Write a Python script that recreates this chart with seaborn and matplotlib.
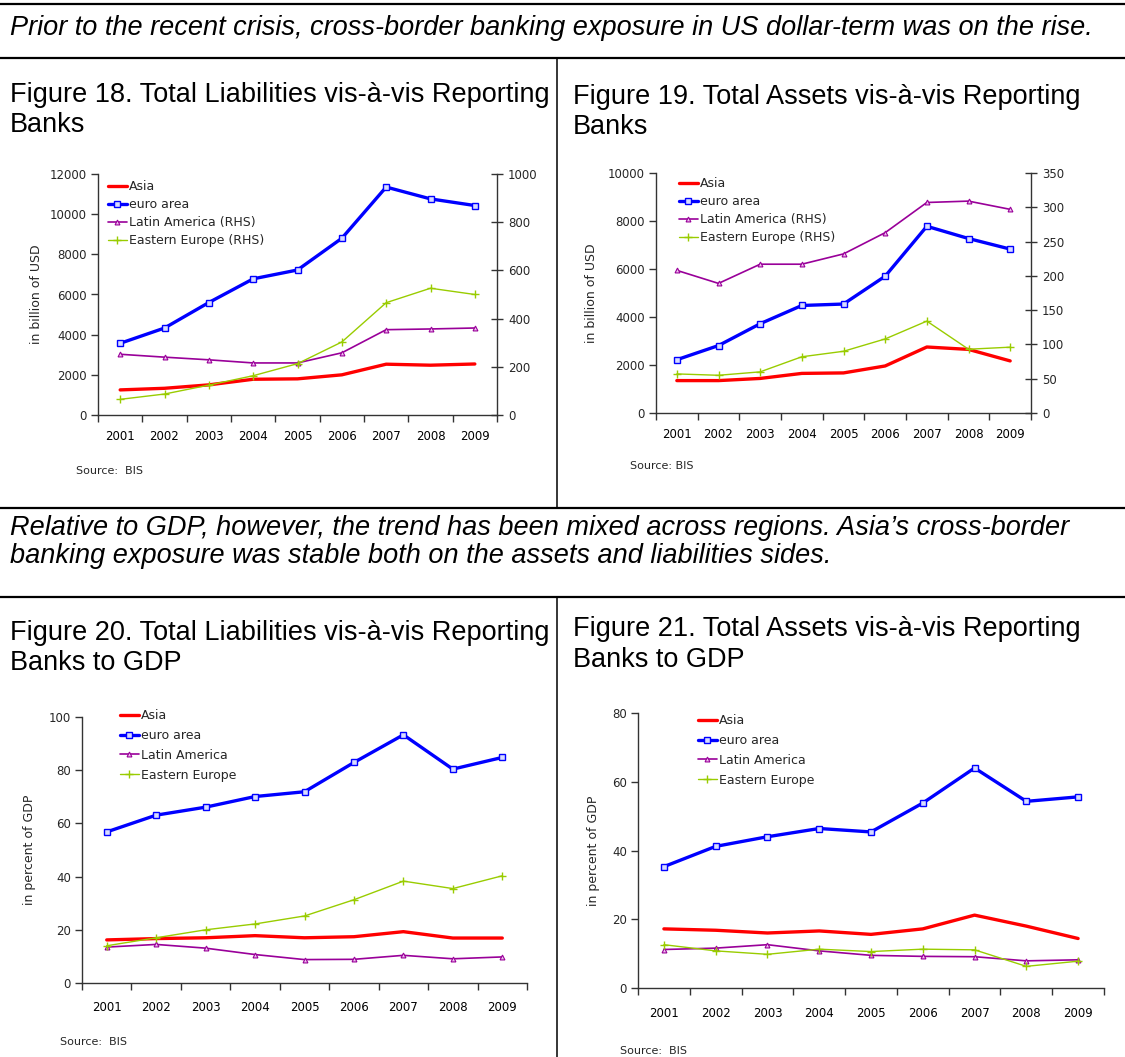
import numpy as np
import matplotlib
matplotlib.use("Agg")
import matplotlib.pyplot as plt
import seaborn as sns
from matplotlib.lines import Line2D

# ---------------- data ----------------
years = ["2001", "2002", "2003", "2004", "2005", "2006", "2007", "2008", "2009"]

# Figure 18: total liabilities (billion USD); Latin America / Eastern Europe on RHS
f18_asia = [1250, 1330, 1500, 1780, 1800, 2000, 2530, 2480, 2540]
f18_euro = [3570, 4330, 5600, 6780, 7220, 8800, 11350, 10760, 10430]
f18_latam = [252, 240, 229, 216, 216, 258, 354, 357, 361]
f18_eeurope = [65, 87, 124, 163, 213, 303, 466, 526, 500]

# Figure 19: total assets (billion USD); Latin America / Eastern Europe on RHS
f19_asia = [1350, 1350, 1440, 1650, 1670, 1960, 2750, 2650, 2170]
f19_euro = [2220, 2810, 3720, 4480, 4540, 5700, 7780, 7270, 6830]
f19_latam = [208, 189, 217, 217, 232, 263, 307, 309, 297]
f19_eeurope = [57, 55, 60, 82, 90, 108, 134, 93, 96]

# Figure 20: liabilities in percent of GDP
f20_asia = [16.2, 16.7, 17.0, 17.8, 17.0, 17.4, 19.3, 16.9, 16.9]
f20_euro = [56.8, 63.1, 66.1, 70.1, 71.9, 82.9, 93.3, 80.4, 84.8]
f20_latam = [13.5, 14.5, 13.1, 10.7, 8.8, 8.9, 10.4, 9.1, 9.8]
f20_eeurope = [14.0, 17.0, 20.0, 22.2, 25.2, 31.3, 38.3, 35.5, 40.3]

# Figure 21: assets in percent of GDP
f21_asia = [17.2, 16.8, 16.0, 16.6, 15.6, 17.2, 21.2, 18.0, 14.4]
f21_euro = [35.3, 41.2, 44.0, 46.4, 45.4, 53.8, 64.0, 54.3, 55.6]
f21_latam = [11.2, 11.6, 12.6, 10.8, 9.5, 9.2, 9.1, 7.9, 8.2]
f21_eeurope = [12.6, 10.8, 9.8, 11.3, 10.6, 11.3, 11.1, 6.3, 7.8]

# ---------------- style ----------------
sns.set_style("white")
plt.rcParams["font.family"] = ["DejaVu Sans"]

W, H = 1125, 1057
fig = plt.figure(figsize=(W / 100, H / 100), dpi=100)
AXC = "#333333"
TXT_FONT = ["Liberation Sans", "DejaVu Sans"]

STY = {
    "asia": dict(color="#FF0000", linewidth=2.4),
    "euro": dict(color="#0000FF", linewidth=2.4, marker="s", markersize=4,
                 markerfacecolor="#D8DCFF", markeredgecolor="#0000FF", markeredgewidth=1.0),
    "latam": dict(color="#990099", linewidth=1.2, marker="^", markersize=3.5,
                  markerfacecolor="#F0C0F0", markeredgecolor="#990099", markeredgewidth=0.8),
    "eeur": dict(color="#99CC00", linewidth=1.0, marker="+", markersize=5.5,
                 markerfacecolor="#99CC00", markeredgecolor="#99CC00", markeredgewidth=1.0),
}

pos = np.arange(len(years))


def fx(x):
    return x / W


def fy(y):
    return 1 - y / H


def rect(l, t, r, b):
    return [l / W, 1 - b / H, (r - l) / W, (b - t) / H]


def draw(ax, vals, key, label):
    sns.lineplot(x=pos, y=vals, ax=ax, legend=False, label=label, **STY[key])


def style_axes(ax, ylim, yticks, xpad):
    ax.set_xlim(-0.5, 8.5)
    ax.set_ylim(*ylim)
    ax.set_yticks(yticks)
    ax.set_yticklabels([str(t) for t in yticks])
    ax.set_xticks(np.arange(-0.5, 9.0, 1.0))
    ax.set_xticklabels([])
    ax.set_xticks(pos, minor=True)
    ax.set_xticklabels(years, minor=True)
    ax.tick_params(axis="x", which="major", direction="out", length=5, width=1, color=AXC, bottom=True)
    ax.tick_params(axis="x", which="minor", length=0, pad=xpad, labelsize=8.5, labelcolor="black", bottom=True)
    ax.tick_params(axis="y", which="major", direction="out", length=5, width=1, color=AXC,
                   labelsize=8.5, pad=3, left=True)
    for s in ["top", "right"]:
        ax.spines[s].set_visible(False)
    for s in ["left", "bottom"]:
        ax.spines[s].set_color(AXC)
        ax.spines[s].set_linewidth(1)
    ax.set_xlabel("")
    ax.set_ylabel("")
    ax.grid(False)


def panel(box, data, labels, ylim, yticks, rhs, ylabel, ylabel_x,
          leg_xy, leg_spacing, src_xy, src_text, xpad):
    ax = fig.add_axes(rect(*box))
    ax.patch.set_alpha(0)
    a_asia, a_euro, a_latam, a_eeur = data
    draw(ax, a_asia, "asia", labels[0])
    draw(ax, a_euro, "euro", labels[1])
    axr = ax
    if rhs is not None:
        axr = ax.twinx()
        draw(axr, a_latam, "latam", labels[2])
        draw(axr, a_eeur, "eeur", labels[3])
        axr.set_ylim(*rhs[0])
        axr.set_yticks(rhs[1])
        axr.set_yticklabels([str(t) for t in rhs[1]])
        axr.tick_params(axis="y", which="major", direction="inout", length=8, width=1,
                        color=AXC, labelsize=8.5, pad=4, right=True)
        for s in ["top", "left", "bottom"]:
            axr.spines[s].set_visible(False)
        axr.spines["right"].set_color(AXC)
        axr.spines["right"].set_linewidth(1)
        axr.set_ylabel("")
        axr.grid(False)
    else:
        draw(ax, a_latam, "latam", labels[2])
        draw(ax, a_eeur, "eeur", labels[3])
    style_axes(ax, ylim, yticks, xpad)
    if rhs is not None:
        ax.set_xlim(-0.5, 8.5)
    ax.set_ylabel(ylabel, fontsize=9)
    ax.yaxis.set_label_coords((ylabel_x - box[0]) / (box[2] - box[0]), 0.5)

    h1, l1 = ax.get_legend_handles_labels()
    h2, l2 = ([], [])
    if axr is not ax:
        h2, l2 = axr.get_legend_handles_labels()
    axr.legend(h1 + h2, l1 + l2, loc="upper left",
               bbox_to_anchor=(fx(leg_xy[0]), fy(leg_xy[1])),
               bbox_transform=fig.transFigure, frameon=False, fontsize=9,
               handlelength=1.5, handletextpad=0.15, labelspacing=leg_spacing,
               borderpad=0, borderaxespad=0)
    fig.text(fx(src_xy[0]), fy(src_xy[1]), src_text, fontsize=8, va="center", ha="left")
    return ax


labels_rhs = ["Asia", "euro area", "Latin America (RHS)", "Eastern Europe (RHS)"]
labels_plain = ["Asia", "euro area", "Latin America", "Eastern Europe"]

panel((98, 174, 497, 415), (f18_asia, f18_euro, f18_latam, f18_eeurope), labels_rhs,
      (0, 12000), [0, 2000, 4000, 6000, 8000, 10000, 12000],
      ((0, 1000), [0, 200, 400, 600, 800, 1000]),
      "in billion of USD", 43, (108, 180), 0.4, (76, 471), "Source:  BIS", 11)

panel((656, 173, 1031, 413), (f19_asia, f19_euro, f19_latam, f19_eeurope), labels_rhs,
      (0, 10000), [0, 2000, 4000, 6000, 8000, 10000],
      ((0, 350), [0, 50, 100, 150, 200, 250, 300, 350]),
      "in billion of USD", 598, (679, 177), 0.4, (630, 466), "Source: BIS", 11)

panel((82, 717, 527, 983), (f20_asia, f20_euro, f20_latam, f20_eeurope), labels_plain,
      (0, 100), [0, 20, 40, 60, 80, 100], None,
      "in percent of GDP", 36, (120, 709), 0.55, (60, 1042), "Source:  BIS", 13)

panel((638, 713, 1104, 988), (f21_asia, f21_euro, f21_latam, f21_eeurope), labels_plain,
      (0, 80), [0, 20, 40, 60, 80], None,
      "in percent of GDP", 600, (698, 714), 0.55, (620, 1051), "Source:  BIS", 14)

# ---------------- page text and rules ----------------
def ftext(x, y, s, italic=False):
    fig.text(fx(x), fy(y), s, fontsize=19.5, family=TXT_FONT, va="baseline", ha="left",
             style="italic" if italic else "normal", color="black")


ftext(10, 35, "Prior to the recent crisis, cross-border banking exposure in US dollar-term was on the rise.", True)
ftext(10, 102, "Figure 18. Total Liabilities vis-à-vis Reporting")
ftext(10, 132, "Banks")
ftext(573, 104, "Figure 19. Total Assets vis-à-vis Reporting")
ftext(573, 134, "Banks")
ftext(10, 535, "Relative to GDP, however, the trend has been mixed across regions. Asia\u2019s cross-border", True)
ftext(10, 563, "banking exposure was stable both on the assets and liabilities sides.", True)
ftext(10, 640, "Figure 20. Total Liabilities vis-à-vis Reporting")
ftext(10, 670, "Banks to GDP")
ftext(573, 636, "Figure 21. Total Assets vis-à-vis Reporting")
ftext(573, 667, "Banks to GDP")


def hline(y):
    fig.add_artist(Line2D([0, 1], [fy(y), fy(y)], color="black", linewidth=1.6,
                          transform=fig.transFigure))


def vline(x, y0, y1):
    fig.add_artist(Line2D([fx(x), fx(x)], [fy(y0), fy(y1)], color="black", linewidth=1.1,
                          transform=fig.transFigure))


hline(4)
hline(58)
hline(508)
hline(597)
vline(557, 58, 508)
vline(557, 597, 1057)

fig.savefig("out.png", dpi=100, facecolor="white")
